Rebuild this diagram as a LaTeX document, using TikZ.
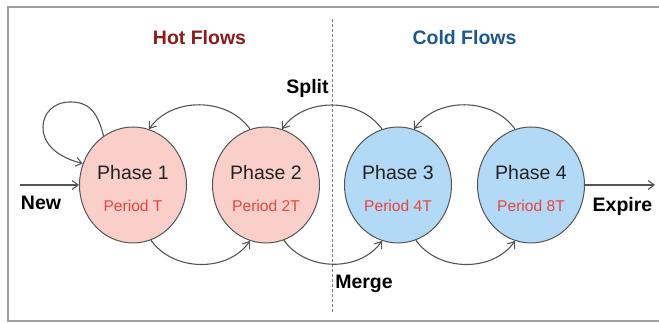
\documentclass[tikz,border=0pt]{standalone}
\usepackage{fontspec}
\setmainfont{Liberation Sans}
\usetikzlibrary{shapes.geometric,arrows.meta}
\definecolor{pinkfill}{RGB}{250,207,201}
\definecolor{bluefill}{RGB}{178,217,245}
\definecolor{edgegray}{RGB}{85,85,85}
\definecolor{framegray}{RGB}{160,160,160}
\definecolor{hotred}{RGB}{140,26,26}
\definecolor{coldblue}{RGB}{30,88,146}
\definecolor{periodred}{RGB}{232,69,60}
\definecolor{phasetext}{RGB}{34,34,34}
\tikzset{
  x=1pt,y=1pt,
  phase/.style={ellipse,draw=edgegray,line width=1pt,minimum width=107pt,minimum height=116pt,inner sep=0pt},
  hot/.style={phase,fill=pinkfill},
  cold/.style={phase,fill=bluefill},
  phtext/.style={anchor=base,text=phasetext,font=\fontsize{19.5}{22}\selectfont,inner sep=0pt},
  pertext/.style={anchor=base,text=periodred,font=\fontsize{15.6}{18}\selectfont,inner sep=0pt},
  lbl/.style={anchor=base,font=\bfseries\fontsize{19.5}{22}\selectfont,inner sep=0pt},
  flow/.style={draw=edgegray,line width=1.1pt,-{Straight Barb[length=6pt,width=9pt,line width=1.1pt]}}
}
\begin{document}
\begin{tikzpicture}
\useasboundingbox (0,0) rectangle (659,323);
\draw[framegray,line width=1.5pt] (8,2) rectangle (675,316);
\coordinate (dtop) at (332,304);
\coordinate (dbot) at (332,10);
\draw[gray,dashed,line width=0.6pt,dash pattern=on 3pt off 2pt] (dtop) -- (dbot);

\node[lbl,text=hotred] (hot) at (199.5,278) {Hot Flows};
\node[lbl,text=coldblue] (cold) at (464.5,278) {Cold Flows};

\node[hot] (p1) at (133,138) {};
\node[hot] (p2) at (266,138) {};
\node[cold] (p3) at (398,138) {};
\node[cold] (p4) at (531,138) {};

\node[phtext] (t1) at (133,143) {Phase 1};
\node[phtext] (t2) at (266,143) {Phase 2};
\node[phtext] (t3) at (398,143) {Phase 3};
\node[phtext] (t4) at (531,143) {Phase 4};
\node[pertext] (r1) at (133,111) {Period T};
\node[pertext] (r2) at (266,111) {Period 2T};
\node[pertext] (r3) at (398,111) {Period 4T};
\node[pertext] (r4) at (531,111) {Period 8T};

\node[lbl] (new) at (41,113) {New};
\node[lbl] (expire) at (622.5,111) {Expire};
\node[lbl] (split) at (307.5,229) {Split};
\node[lbl] (merge) at (364,34) {Merge};

\coordinate (newstart) at (20,138);
\coordinate (expend) at (655,138);
\draw[flow] (newstart) -- (p1.west);
\draw[flow] (p4.east) -- (expend);

% self loop
\draw[flow] (p1.121) .. controls (97,213) and (88,221) .. (70,221)
  .. controls (53,221) and (43,209) .. (43,196)
  .. controls (43,178) and (58,166) .. (p1.157);

% top arcs (backward)
\draw[flow] (p2.106) to[out=125,in=55] (p1.74);
\draw[flow] (p3.106) to[out=125,in=55] (p2.74);
\draw[flow] (p4.106) to[out=125,in=55] (p3.74);
% bottom arcs (forward)
\draw[flow] (p1.-72) to[out=-55,in=-125] (p2.-106);
\draw[flow] (p2.-72) to[out=-55,in=-125] (p3.-106);
\draw[flow] (p3.-72) to[out=-55,in=-125] (p4.-106);
\end{tikzpicture}
\end{document}
